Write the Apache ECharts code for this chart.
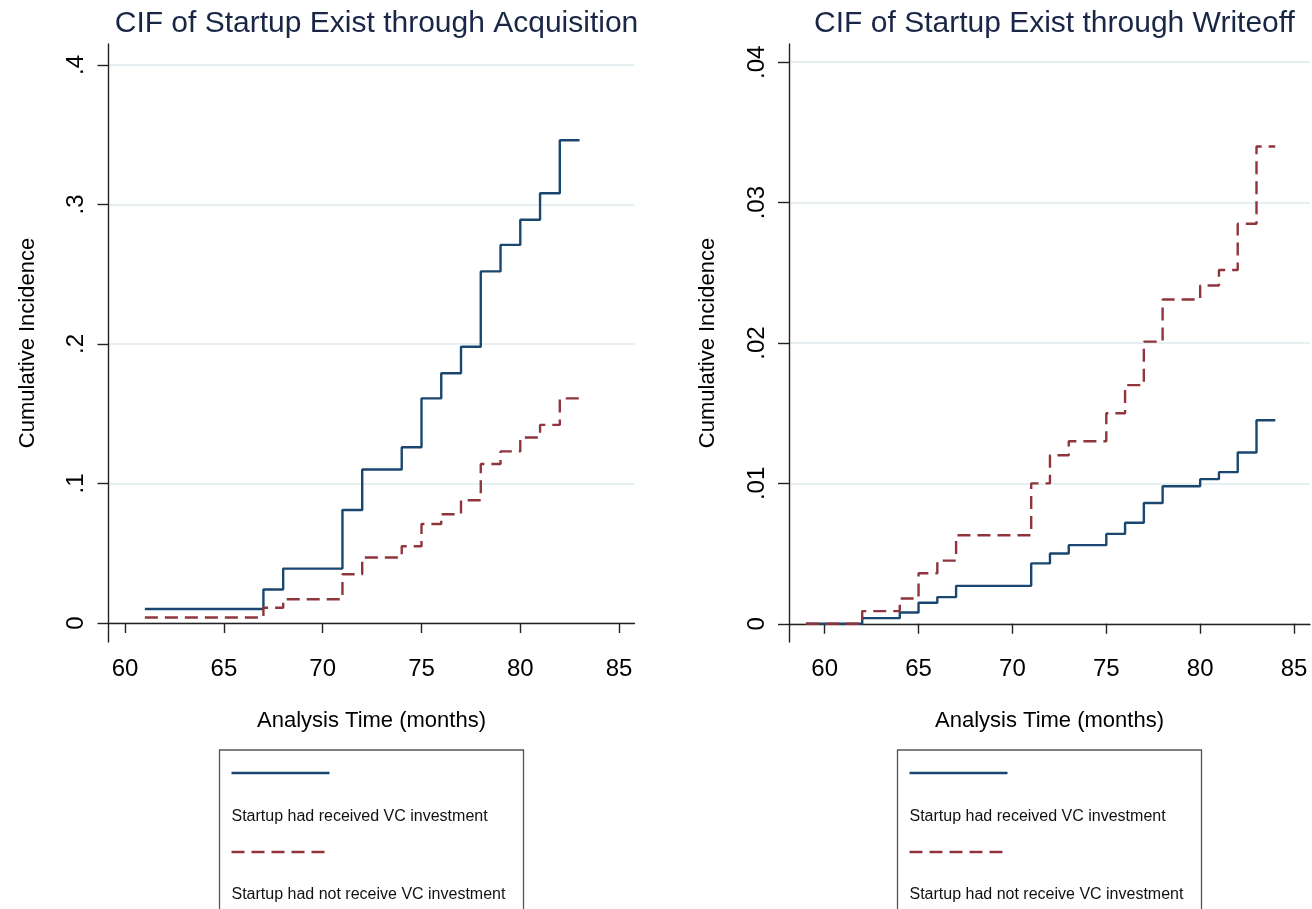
<!DOCTYPE html>
<html>
<head>
<meta charset="utf-8">
<title>CIF of Startup Exist</title>
<script src="https://cdn.jsdelivr.net/npm/echarts@6/dist/echarts.min.js"></script>
<style>
  html, body { margin: 0; padding: 0; background: #fff; }
  #chart { width: 1312px; height: 909px; }
</style>
</head>
<body>
<div id="chart"></div>
<script>
// analysis time (months) and cumulative incidence
const acqTime = [61, 67, 68, 71, 72, 74, 75, 76, 77, 78, 79, 80, 81, 82, 83]
const acqVC = [0.010, 0.024, 0.039, 0.081, 0.110, 0.126, 0.161, 0.179, 0.198, 0.252, 0.271, 0.289, 0.308, 0.346, 0.346]
const acqNoVC = [0.004, 0.011, 0.017, 0.035, 0.047, 0.055, 0.071, 0.078, 0.088, 0.114, 0.123, 0.133, 0.142, 0.161, 0.161]

const wofTime = [59, 62, 64, 65, 66, 67, 71, 72, 73, 75, 76, 77, 78, 80, 81, 82, 83, 84]
const wofVC = [0, 0.0004, 0.0008, 0.0015, 0.0019, 0.0027, 0.0043, 0.0050, 0.0056, 0.0064, 0.0072, 0.0086, 0.0098, 0.0103, 0.0108, 0.0122, 0.0145, 0.0145]
const wofNoVC = [0, 0.0009, 0.0018, 0.0036, 0.0045, 0.0063, 0.0100, 0.0120, 0.0130, 0.0150, 0.0170, 0.0201, 0.0231, 0.0241, 0.0252, 0.0285, 0.0340, 0.0340]

const monthTicks = [60, 65, 70, 75, 80, 85]
const acqTicks = [0, 0.1, 0.2, 0.3, 0.4]
const wofTicks = [0, 0.01, 0.02, 0.03, 0.04]

const titles = ["CIF of Startup Exist through Acquisition", "CIF of Startup Exist through Writeoff"]
const seriesNames = ["Startup had received VC investment", "Startup had not receive VC investment"]

const BLUE = "#1a476f"
const RED = "#90353b"
const FONT = "Liberation Sans, Arial, sans-serif"

const grids = [
  { left: 108.5, top: 44, width: 526, height: 598 },
  { left: 789, top: 44, width: 521, height: 598 }
]

function pairs(xs, ys) {
  return xs.map((x, i) => [x, ys[i]])
}

function decimalLabel(v) {
  if (v === 0) return "0"
  return String(+v.toFixed(4)).replace(/^0/, "")
}

function xAxisFor(idx, min, max) {
  return {
    gridIndex: idx,
    type: "value",
    min,
    max,
    name: "Analysis Time (months)",
    nameLocation: "middle",
    nameGap: 68,
    nameTextStyle: { color: "#000", fontSize: 22, fontFamily: FONT },
    axisLine: { show: true, lineStyle: { color: "#222", width: 1.4 } },
    axisTick: { show: true, length: 10, customValues: monthTicks, lineStyle: { color: "#222", width: 1.4 } },
    axisLabel: { customValues: monthTicks, margin: 15, color: "#000", fontSize: 24, fontFamily: FONT },
    splitLine: { show: false }
  }
}

function yAxisFor(idx, min, max, ticks) {
  return {
    gridIndex: idx,
    type: "value",
    min,
    max,
    name: "Cumulative Incidence",
    nameLocation: "middle",
    nameGap: 70,
    nameTextStyle: { color: "#000", fontSize: 22, fontFamily: FONT },
    axisLine: { show: true, lineStyle: { color: "#222", width: 1.4 } },
    axisTick: { show: true, length: 11, customValues: ticks, lineStyle: { color: "#222", width: 1.4 } },
    axisLabel: {
      customValues: ticks,
      rotate: 90,
      margin: 20,
      color: "#000",
      fontSize: 24,
      fontFamily: FONT,
      formatter: decimalLabel
    },
    splitLine: { show: true, lineStyle: { color: "#e6f0f2", width: 2 } }
  }
}

function stepSeries(name, idx, data, color, dashed) {
  return {
    name,
    type: "line",
    xAxisIndex: idx,
    yAxisIndex: idx,
    step: "end",
    showSymbol: false,
    silent: true,
    lineStyle: { color, width: 2.4, type: dashed ? [13, 7] : "solid", cap: "butt" },
    data
  }
}

// boxed legend under each plot: line sample above its label
function legendBox(cx) {
  const left = cx - 152
  const x0 = left + 12
  return [
    { type: "rect", shape: { x: left, y: 750, width: 304, height: 175 }, style: { fill: "#fff", stroke: "#555", lineWidth: 1.3 } },
    { type: "line", shape: { x1: x0, y1: 773, x2: x0 + 98, y2: 773 }, style: { stroke: BLUE, lineWidth: 2.6 } },
    { type: "text", x: x0, y: 817, style: { text: seriesNames[0], fill: "#111", font: "16px " + FONT, verticalAlign: "middle" } },
    { type: "line", shape: { x1: x0, y1: 852, x2: x0 + 97, y2: 852 }, style: { stroke: RED, lineWidth: 2.6, lineDash: [13, 7] } },
    { type: "text", x: x0, y: 895, style: { text: seriesNames[1], fill: "#111", font: "16px " + FONT, verticalAlign: "middle" } }
  ]
}

const centers = grids.map(g => g.left + g.width / 2)

const chart = echarts.init(document.getElementById("chart"), null, { renderer: "canvas" })

chart.setOption({
  animation: false,
  backgroundColor: "#fff",
  title: titles.map((t, i) => ({
    text: t,
    left: centers[i],
    top: 4,
    textAlign: "center",
    textStyle: { color: "#1a2646", fontSize: 30, fontWeight: "normal", fontFamily: FONT }
  })),
  grid: grids,
  xAxis: [xAxisFor(0, 59.16, 85.78), xAxisFor(1, 58.1, 85.85)],
  yAxis: [yAxisFor(0, -0.0136, 0.415, acqTicks), yAxisFor(1, -0.0013, 0.0413, wofTicks)],
  series: [
    stepSeries(seriesNames[0], 0, pairs(acqTime, acqVC), BLUE, false),
    stepSeries(seriesNames[1], 0, pairs(acqTime, acqNoVC), RED, true),
    stepSeries(seriesNames[0], 1, pairs(wofTime, wofVC), BLUE, false),
    stepSeries(seriesNames[1], 1, pairs(wofTime, wofNoVC), RED, true)
  ],
  graphic: legendBox(centers[0]).concat(legendBox(centers[1]))
})
</script>
</body>
</html>
